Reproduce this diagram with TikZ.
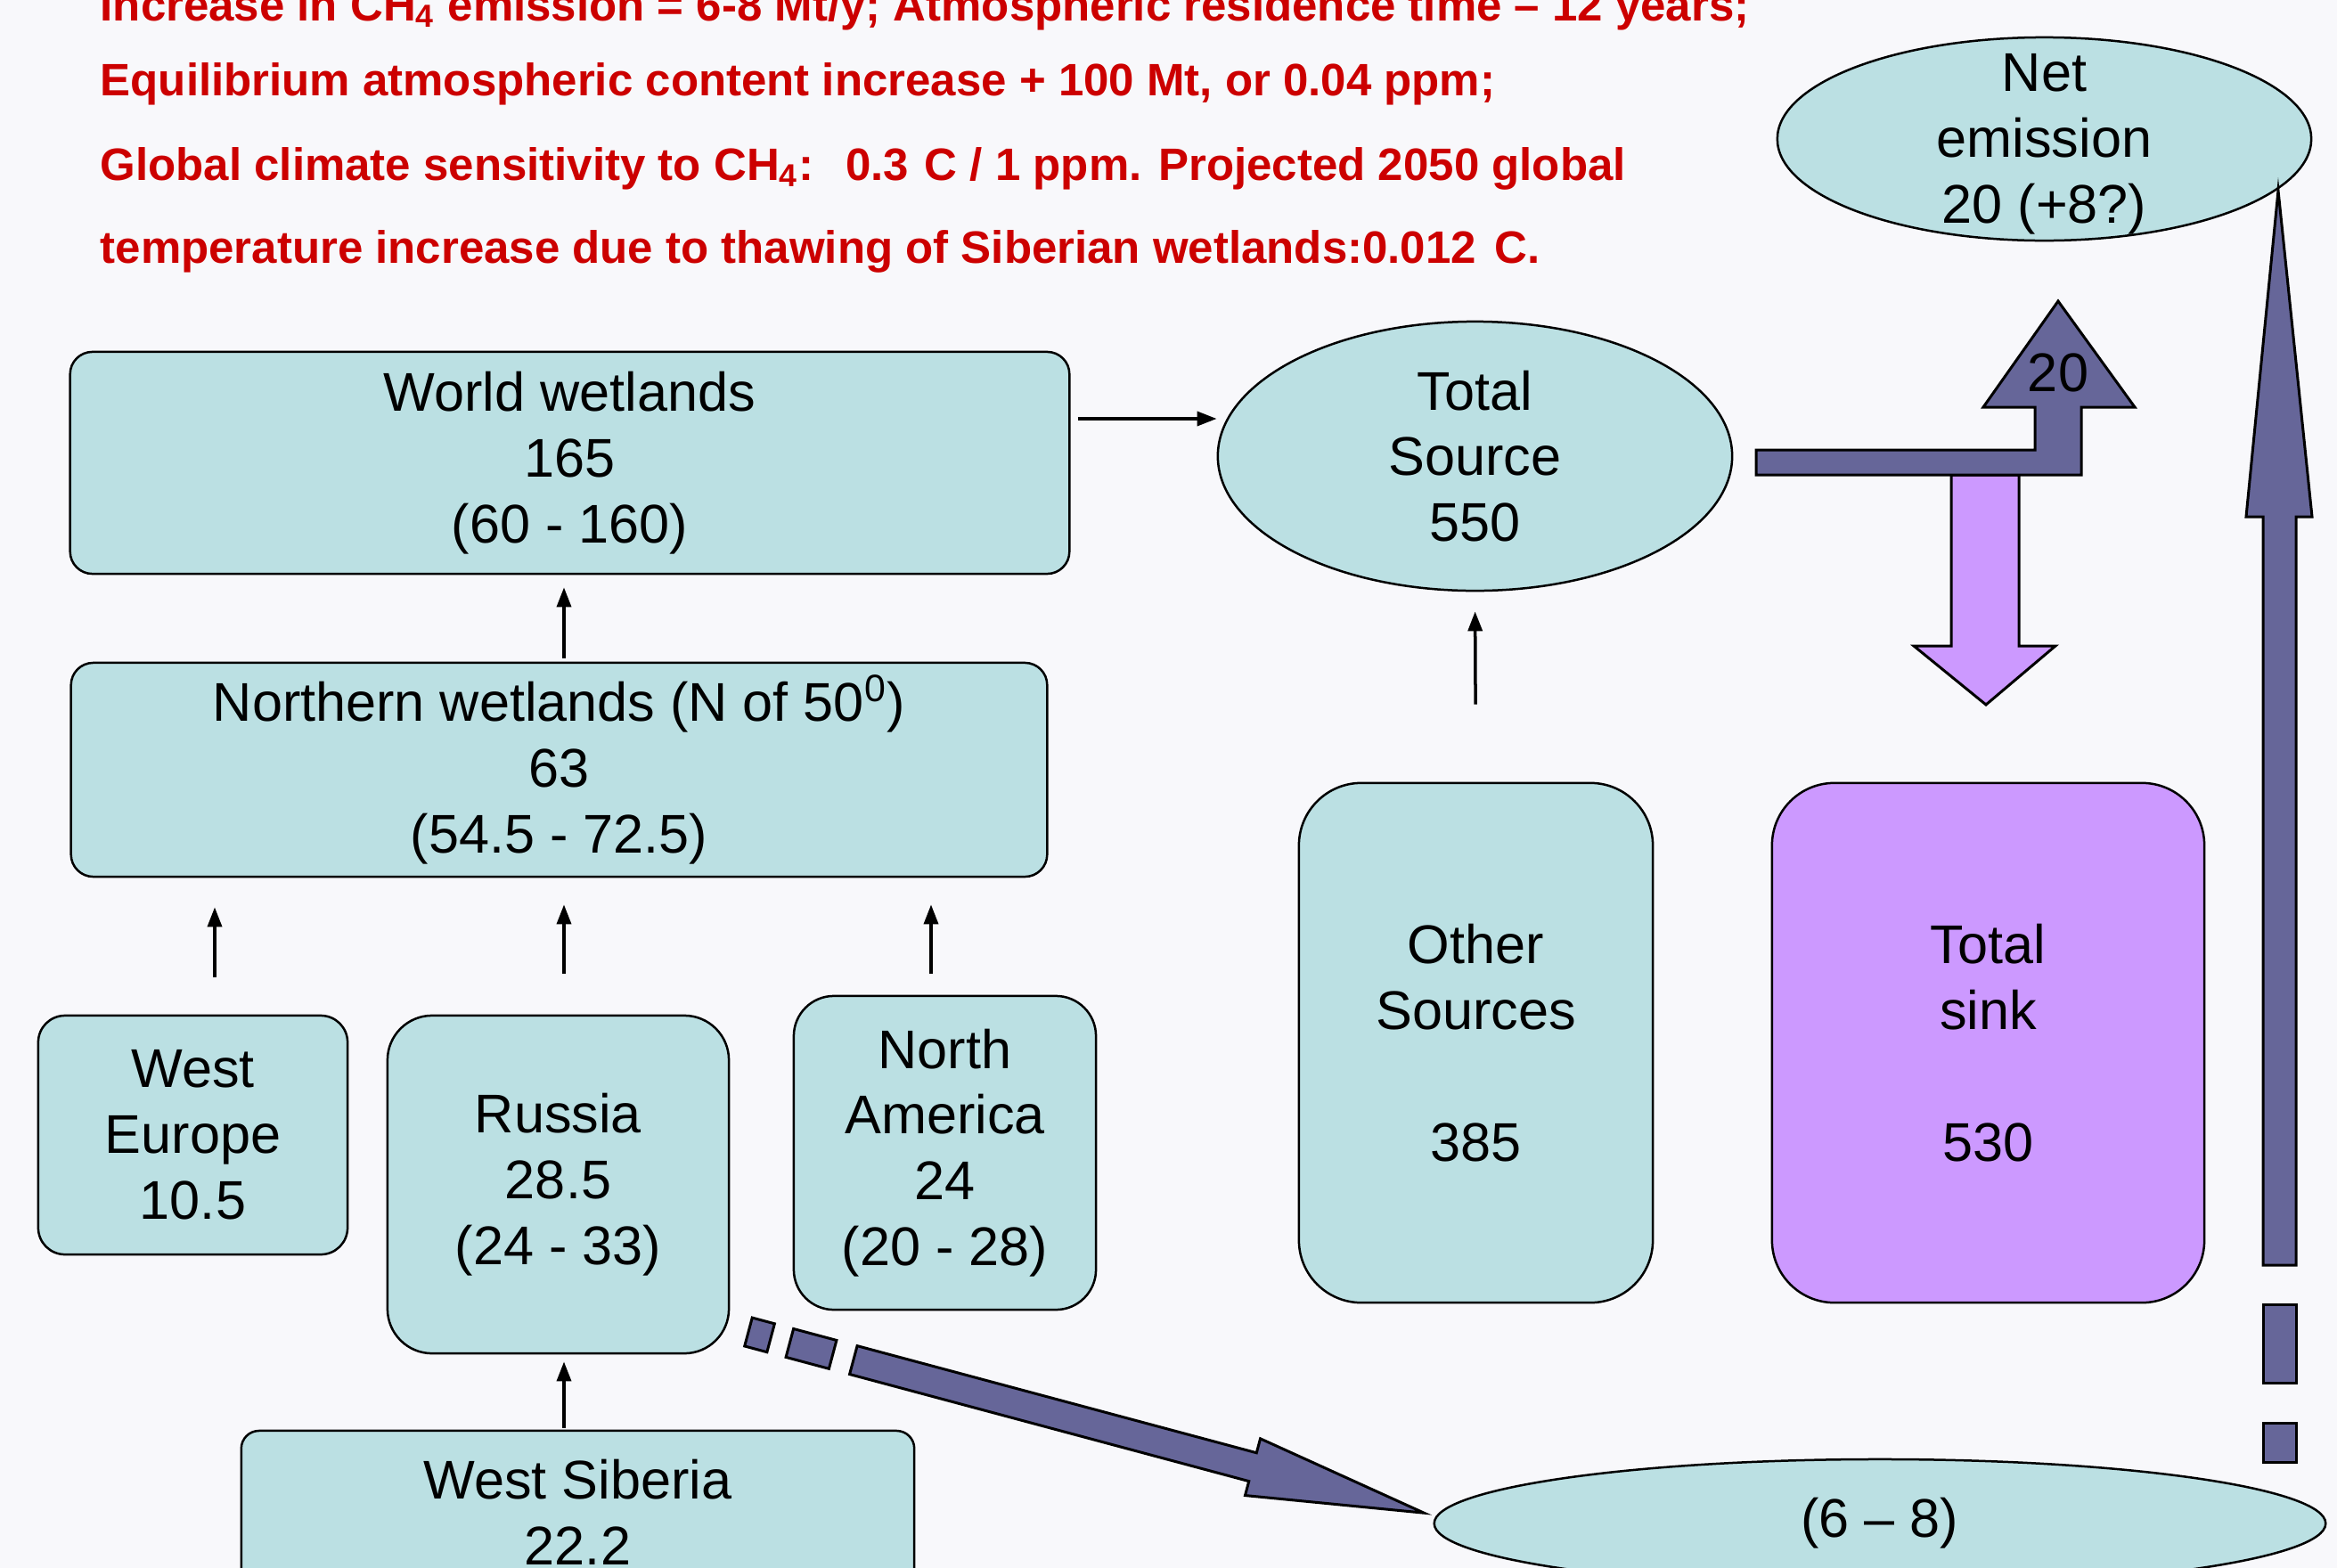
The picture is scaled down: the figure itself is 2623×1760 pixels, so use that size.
\documentclass[tikz,border=0pt]{standalone}
\usepackage{fontspec}
\setmainfont{Liberation Sans}
\usetikzlibrary{arrows.meta,shapes.geometric,positioning}

\definecolor{bgpaper}{RGB}{248,248,251}
\definecolor{boxteal}{RGB}{187,224,227}
\definecolor{flowdark}{RGB}{102,102,153}
\definecolor{flowlilac}{RGB}{204,153,255}
\definecolor{notered}{RGB}{204,0,0}

\newcommand\boxfont{\fontsize{17.4}{21}\selectfont}
\newcommand\notefont{\fontsize{14.5}{17}\selectfont\bfseries}

\tikzset{
  box/.style={draw, line width=0.025cm, fill=boxteal, rounded corners=#1,
    align=center, inner sep=0pt, font=\boxfont},
  box/.default=0.25cm,
  oval/.style={draw, line width=0.025cm, fill=boxteal, ellipse, inner sep=0pt},
  txt/.style={align=center, inner sep=0pt, font=\boxfont},
  link/.style={-{Triangle[length=0.22cm,width=0.16cm]}, line width=0.035cm},
  fat/.style={draw, line width=0.03cm, fill=#1},
  note/.style={anchor=base west, inner sep=0pt, font=\notefont, text=notered}
}

\begin{document}
\begin{tikzpicture}[x=0.01cm,y=-0.01cm]
  \path[use as bounding box, fill=bgpaper] (0,0) rectangle (2623,1760);
  \clip (0,0) rectangle (2623,1760);

  % red notes on top
  \node[note] (l1) at (112,23) {Increase in CH\textsubscript{4} emission = 6-8 Mt/y; Atmospheric residence time – 12 years;};
  \node[note] (l2) at (112,107) {Equilibrium atmospheric content increase + 100 Mt, or 0.04 ppm;};
  \node[note] (l3) at (112,202) {Global climate sensitivity to CH\textsubscript{4}:\hspace{0.7em}0.3\hspace{0.35em}C / 1 ppm. Projected 2050 global};
  \node[note] (l4) at (112,295) {temperature increase due to thawing of Siberian wetlands:0.012\hspace{0.4em}C.};

  % wetland boxes
  \node[box, minimum width=11.21cm, minimum height=2.49cm] (ww) at (639.5,519.5) {World wetlands\\165\\(60 - 160)};
  \node[box, minimum width=10.95cm, minimum height=2.40cm] (nw) at (627.5,864) {Northern wetlands (N of 50\textsuperscript{0})\\63\\(54.5 - 72.5)};
  \node[box=0.3cm, minimum width=3.47cm, minimum height=2.68cm] (we) at (216.5,1274) {West\\Europe\\10.5};
  \node[box=0.5cm, minimum width=3.83cm, minimum height=3.79cm] (ru) at (626.5,1329.5) {Russia\\28.5\\(24 - 33)};
  \node[box=0.45cm, minimum width=3.39cm, minimum height=3.52cm] (na) at (1060.5,1294) {North\\America\\24\\(20 - 28)};
  \node[box=0.2cm, minimum width=7.55cm, minimum height=1.82cm] (ws) at (648.5,1697) {West Siberia\\22.2};

  % sources and sink
  \node[oval, minimum width=5.77cm, minimum height=3.02cm] (ts) at (1655.5,512) {};
  \node[txt] (tstxt) at (ts) {Total\\Source\\550};
  \node[box=0.7cm, minimum width=3.97cm, minimum height=5.83cm] (os) at (1656.5,1170.5) {Other\\Sources\\[21pt]385};
  \node[box=0.7cm, fill=flowlilac, minimum width=4.85cm, minimum height=5.83cm] (sink) at (2231.5,1170.5) {Total\\sink\\[21pt]530};
  \node[oval, minimum width=5.99cm, minimum height=2.28cm] (net) at (2294.5,156) {};
  \node[txt] (nettxt) at ([yshift=-0.06cm]net.center) {Net\\emission\\20 (+8?)};
  \node[oval, minimum width=10.0cm, minimum height=1.44cm, font=\boxfont] (ext) at (2110,1710) {(6 – 8)};

  % thin links
  \draw[link, shorten <=0.04cm, shorten >=0.14cm] (nw.north -| 633,0) -- (ww.south -| 633,0);
  \draw[link, shorten <=0.42cm, shorten >=0.33cm] (we.north -| 241,0) -- (nw.south -| 241,0);
  \draw[link, shorten <=0.46cm, shorten >=0.30cm] (ru.north -| 633,0) -- (nw.south -| 633,0);
  \draw[link, shorten <=0.24cm, shorten >=0.30cm] (na.north -| 1045,0) -- (nw.south -| 1045,0);
  \draw[link, shorten <=0.02cm, shorten >=0.08cm] (ws.north -| 633,0) -- (ru.south -| 633,0);
  \draw[link, shorten <=0.87cm, shorten >=0.22cm] (os.north) -- (ts.south);
  \draw[link, shorten <=0.08cm] (ww.east |- 0,470) -- (ts.west |- 0,470);

  % block arrows
  \draw[fat=flowlilac] (2190,533) -- (2266,533) -- (2266,725) -- (2307,725) -- (2229,791) -- (2148,725) -- (2190,725) -- cycle;
  \draw[fat=flowdark] (1971,505) -- (2284,505) -- (2284,457) -- (2226,457) -- (2310,338) -- (2396,457) -- (2336,457) -- (2336,533) -- (1971,533) -- cycle;
  \node[txt] (twenty) at (2310,418) {20};
  \draw[fat=flowdark] (2540,1420) -- (2540,580) -- (2521,580) -- (2557,214) -- (2595,580) -- (2577,580) -- (2577,1420) -- cycle;
  \foreach \a/\b in {1464/1552,1597/1641}
    \draw[fat=flowdark] (2540,\a) rectangle (2577,\b);
  \begin{scope}[shift={(840,1495)},rotate=-15]
    \foreach \a/\b in {0/26,48/98}
      \draw[fat=flowdark] (\a,-16.5) rectangle (\b,16.5);
    \draw[fat=flowdark] (122,-16.5) -- (586,-16.5) -- (586,-33) -- (785,0) -- (586,33) -- (586,16.5) -- (122,16.5) -- cycle;
  \end{scope}
\end{tikzpicture}
\end{document}
